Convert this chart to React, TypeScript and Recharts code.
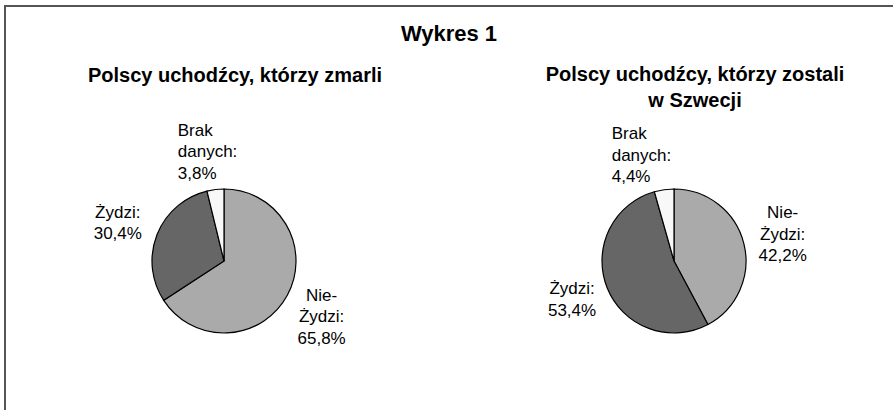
import React from "react";
import { PieChart, Pie, Cell } from "recharts";

const categories = ["Nie-Żydzi", "Żydzi", "Brak danych"];
const labelLines = [["Nie-", "Żydzi:"], ["Żydzi:"], ["Brak", "danych:"]];
const diedValues = [65.8, 30.4, 3.8];
const stayedValues = [42.2, 53.4, 4.4];
const diedLabels = ["65,8%", "30,4%", "3,8%"];
const stayedLabels = ["42,2%", "53,4%", "4,4%"];
const mainTitle = "Wykres 1";
const diedTitle = ["Polscy uchodźcy, którzy zmarli"];
const stayedTitle = ["Polscy uchodźcy, którzy zostali", "w Szwecji"];

const COLORS = ["#aaaaaa", "#666666", "#f8f8f8"];
const FONT = "'Liberation Sans', Arial, sans-serif";
const W = 893;
const H = 410;
const RADIAN = Math.PI / 180;

// label layout tweaks (styling only)
const diedAdjust = [
  { dx: 0, dy: 3, anchor: "middle" },
  { dx: -3, dy: 3, anchor: "middle" },
  { dx: -33, dy: 1, anchor: "start" },
];
const stayedAdjust = [
  { dx: 1, dy: 0, anchor: "middle" },
  { dx: 1, dy: -3, anchor: "middle" },
  { dx: -47, dy: 4, anchor: "start" },
];

const buildData = (values: number[], labels: string[]) =>
  categories.map((name, i) => ({ name, value: values[i], pct: labels[i], lines: [...labelLines[i], labels[i]] }));

const diedData = buildData(diedValues, diedLabels);
const stayedData = buildData(stayedValues, stayedLabels);

const makeLabel = (adjust: { dx: number; dy: number; anchor: string }[]) => (props: any) => {
  const { cx, cy, midAngle, outerRadius, index, payload } = props;
  const r = outerRadius + 39;
  const x = cx + r * Math.cos(-midAngle * RADIAN) + adjust[index].dx;
  const y = cy + r * Math.sin(-midAngle * RADIAN) + adjust[index].dy;
  const lines: string[] = (payload && payload.lines) || props.lines || [];
  const lh = 21.5;
  return (
    <g key={`lbl-${index}`}>
      {lines.map((t, i) => (
        <text
          key={i}
          x={x}
          y={y + (i - (lines.length - 1) / 2) * lh}
          textAnchor={adjust[index].anchor as any}
          dominantBaseline="central"
          fontFamily={FONT}
          fontSize={17}
          fill="#000"
        >
          {t}
        </text>
      ))}
    </g>
  );
};

const Title = ({ lines, cx, cy, size, lh }: { lines: string[]; cx: number; cy: number; size: number; lh: number }) => (
  <div
    style={{
      position: "absolute",
      left: cx - 250,
      width: 500,
      top: cy - lh / 2,
      textAlign: "center",
      fontFamily: FONT,
      fontWeight: "bold",
      fontSize: size,
      lineHeight: `${lh}px`,
      color: "#000",
      whiteSpace: "nowrap",
    }}
  >
    {lines.map((l, i) => (
      <div key={i}>{l}</div>
    ))}
  </div>
);

export default function App() {
  return (
    <div style={{ position: "absolute", left: 0, top: 0, width: W, height: H, background: "#fff", overflow: "hidden" }}>
      <div
        style={{
          position: "absolute",
          left: 4,
          top: 5,
          width: W,
          height: H,
          borderTop: "2px solid #555",
          borderLeft: "2px solid #555",
        }}
      />
      <PieChart
        width={W}
        height={H}
        margin={{ top: 0, right: 0, bottom: 0, left: 0 }}
        style={{ position: "absolute", left: 0, top: 0 }}
      >
        <Pie
          data={diedData}
          dataKey="value"
          nameKey="name"
          cx={224}
          cy={261}
          outerRadius={72}
          startAngle={90}
          endAngle={-270}
          stroke="#000"
          strokeWidth={1.2}
          labelLine={false}
          label={makeLabel(diedAdjust)}
          isAnimationActive={false}
        >
          {diedData.map((d, i) => (
            <Cell key={d.name} fill={COLORS[i]} />
          ))}
        </Pie>
        <Pie
          data={stayedData}
          dataKey="value"
          nameKey="name"
          cx={674}
          cy={261}
          outerRadius={72}
          startAngle={90}
          endAngle={-270}
          stroke="#000"
          strokeWidth={1.2}
          labelLine={false}
          label={makeLabel(stayedAdjust)}
          isAnimationActive={false}
        >
          {stayedData.map((d, i) => (
            <Cell key={d.name} fill={COLORS[i]} />
          ))}
        </Pie>
      </PieChart>
      <Title lines={[mainTitle]} cx={449} cy={34} size={22} lh={26} />
      <Title lines={diedTitle} cx={235} cy={75} size={20} lh={26} />
      <Title lines={stayedTitle} cx={695} cy={74} size={20} lh={26} />
    </div>
  );
}
